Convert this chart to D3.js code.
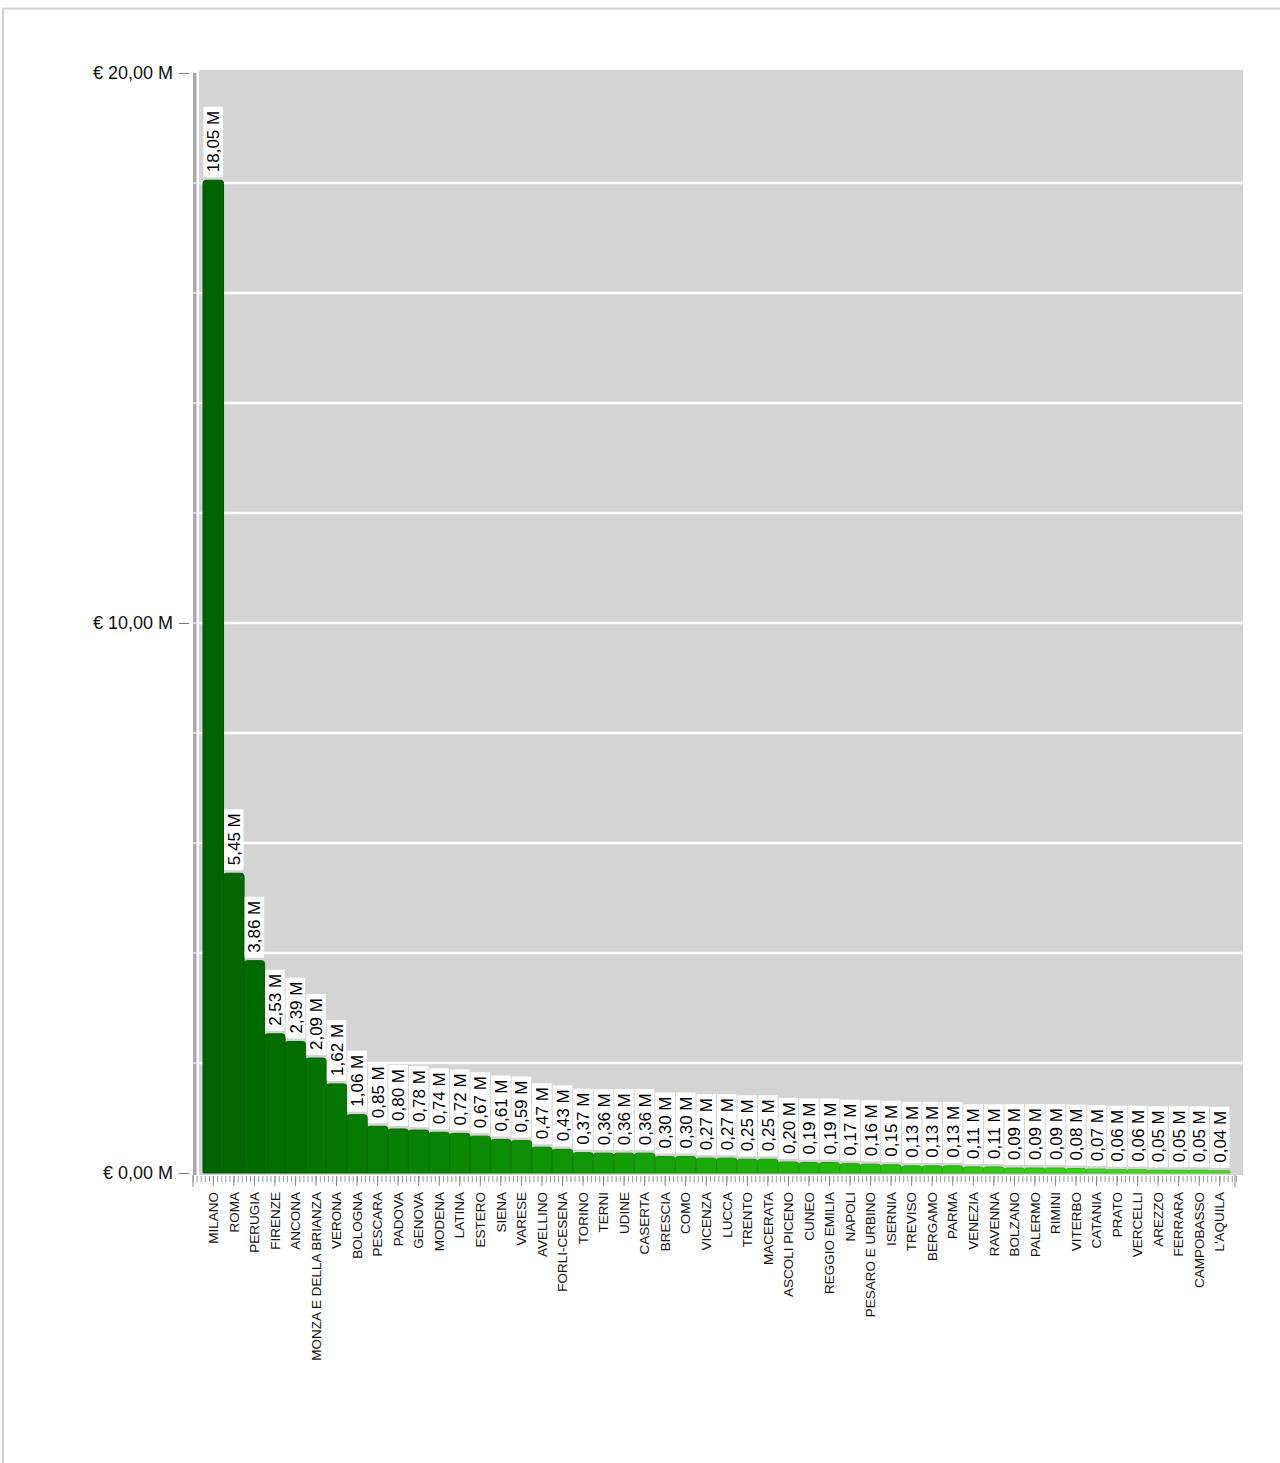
<!DOCTYPE html>
<html><head><meta charset="utf-8">
<script src="https://cdn.jsdelivr.net/npm/d3@7"></script>
<style>body{margin:0;background:#fff;font-family:"Liberation Sans",Arial,sans-serif}</style>
</head><body><svg id="c" width="1280" height="1463"></svg>
<script>
const categories = ["MILANO","ROMA","PERUGIA","FIRENZE","ANCONA","MONZA E DELLA BRIANZA","VERONA","BOLOGNA","PESCARA","PADOVA","GENOVA","MODENA","LATINA","ESTERO","SIENA","VARESE","AVELLINO","FORLI-CESENA","TORINO","TERNI","UDINE","CASERTA","BRESCIA","COMO","VICENZA","LUCCA","TRENTO","MACERATA","ASCOLI PICENO","CUNEO","REGGIO EMILIA","NAPOLI","PESARO E URBINO","ISERNIA","TREVISO","BERGAMO","PARMA","VENEZIA","RAVENNA","BOLZANO","PALERMO","RIMINI","VITERBO","CATANIA","PRATO","VERCELLI","AREZZO","FERRARA","CAMPOBASSO","L'AQUILA"];
const values = [18.05,5.45,3.86,2.53,2.39,2.09,1.62,1.06,0.85,0.80,0.78,0.74,0.72,0.67,0.61,0.59,0.47,0.43,0.37,0.36,0.36,0.36,0.30,0.30,0.27,0.27,0.25,0.25,0.20,0.19,0.19,0.17,0.16,0.15,0.13,0.13,0.13,0.11,0.11,0.09,0.09,0.09,0.08,0.07,0.06,0.06,0.05,0.05,0.05,0.04];
const yTickValues = [0,10,20];
const gridValues = [2,4,6,8,10,12,14,16,18];

const loc = d3.formatLocale({decimal:",",thousands:".",grouping:[3],currency:["€ ",""]});
const f2 = loc.format(".2f");

const svg = d3.select("#c");
// outer frame
svg.append("rect").attr("x",3).attr("y",8.5).attr("width",1300).attr("height",1500)
  .attr("fill","none").attr("stroke","#d2d2d2").attr("stroke-width",2);

const y = d3.scaleLinear().domain([0,20]).range([1173,73]);
const x = d3.scaleBand().domain(categories).range([203,1230]).padding(0);
const color = d3.scaleLinear().domain([0,categories.length-1]).range(["#006400","#4ae024"]).interpolate(d3.interpolateHsl);

// plot background
svg.append("rect").attr("x",199).attr("y",70).attr("width",1044).attr("height",1105).attr("fill","#d4d4d4");
// grid lines
svg.append("g").selectAll("line").data(gridValues).join("line")
  .attr("x1",199).attr("x2",1243).attr("y1",d=>y(d)).attr("y2",d=>y(d))
  .attr("stroke","#fff").attr("stroke-width",2.5);

// y axis line (gray bar)
svg.append("rect").attr("x",193).attr("y",73).attr("width",3.5).attr("height",1102).attr("fill","#a8a8a8");
svg.append("g").selectAll("line").data(gridValues).join("line")
  .attr("x1",193).attr("x2",197).attr("y1",d=>y(d)).attr("y2",d=>y(d))
  .attr("stroke","#e8e8e8").attr("stroke-width",1.5);

// y axis ticks/labels
const yAxis = d3.axisLeft(y).tickValues(yTickValues).tickSize(12).tickPadding(4)
  .tickFormat(d=>"€ "+f2(d)+" M");
const gy = svg.append("g").attr("transform","translate(189,0)").call(yAxis);
gy.select(".domain").remove();
gy.selectAll(".tick line").attr("stroke","#777").attr("x2",-10);
gy.selectAll(".tick text").attr("font-size",18).attr("fill","#111").attr("font-family","Liberation Sans, Arial, sans-serif").attr("dy","0.3em");

// bars
const bw = x.bandwidth();
svg.append("g").selectAll("path").data(categories).join("path")
  .attr("d",(d,i)=>{
    const x0=x(d), x1=x0+bw, yt=y(values[i]), yb=y(0), r=Math.min(3,(yb-yt)/2);
    return `M${x0},${yb}L${x0},${yt+r}Q${x0},${yt} ${x0+r},${yt}L${x1-r},${yt}Q${x1},${yt} ${x1},${yt+r}L${x1},${yb}Z`;
  })
  .attr("fill",(d,i)=>color(i))
  .attr("stroke",(d,i)=>d3.color(color(i)).darker(0.45))
  .attr("stroke-width",1);

// value labels
const lg = svg.append("g");
categories.forEach((c,i)=>{
  const cx = x(c)+bw/2, top = y(values[i]);
  const g = lg.append("g").attr("transform",`translate(${cx},${top-8}) rotate(-90)`);
  const t = g.append("text").text(f2(values[i])+" M").attr("font-size",17).attr("fill","#000")
    .attr("x",0).attr("y",0).attr("dy","0.36em");
  const len = t.node().getComputedTextLength();
  g.insert("rect","text").attr("x",-5).attr("y",-bw/2+0.5).attr("width",len+9).attr("height",bw-1).attr("fill","#fff");
});

// x axis ruler
const minorStep = bw/5;
const minorTicks = d3.range(193, 1237, minorStep);
svg.append("g").selectAll("line").data(minorTicks).join("line")
  .attr("x1",d=>d).attr("x2",d=>d).attr("y1",1176).attr("y2",1182)
  .attr("stroke","#999").attr("stroke-width",1);
svg.append("line").attr("x1",193).attr("x2",193).attr("y1",1175).attr("y2",1187).attr("stroke","#888");
svg.append("line").attr("x1",1235).attr("x2",1235).attr("y1",1175).attr("y2",1187).attr("stroke","#888");

const xAxis = d3.axisBottom(x).tickSize(10).tickPadding(6);
const gx = svg.append("g").attr("transform","translate(0,1176)").call(xAxis);
gx.select(".domain").remove();
gx.selectAll(".tick line").attr("stroke","#888");
gx.selectAll(".tick text").attr("font-size",13.5).attr("fill","#111")
  .attr("font-family","Liberation Sans, Arial, sans-serif")
  .attr("text-anchor","end").attr("transform","rotate(-90)")
  .attr("x",-16).attr("y",0).attr("dy","0.35em");
</script></body></html>
